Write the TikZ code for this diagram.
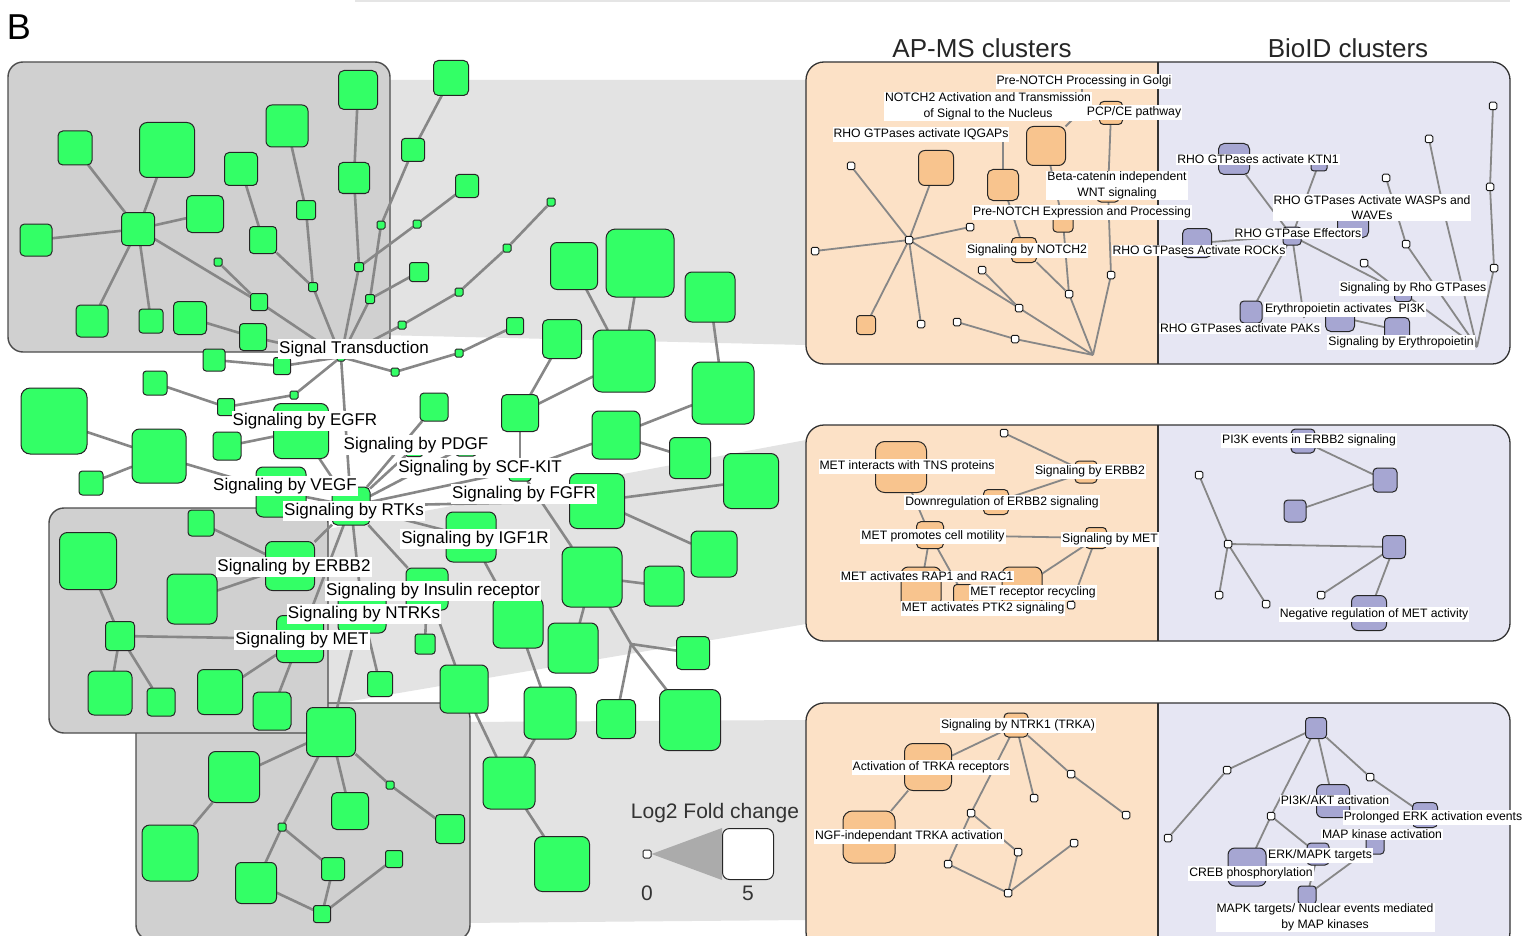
\documentclass[tikz,border=0pt]{standalone}
\usepackage{fontspec}
\setmainfont{Liberation Sans}
\pgfdeclarelayer{bg}
\pgfdeclarelayer{edges}
\pgfdeclarelayer{fg}
\pgfsetlayers{bg,edges,main,fg}
\definecolor{G}{HTML}{33FF66}
\definecolor{Peach}{HTML}{FCE1C6}
\definecolor{Lav}{HTML}{E6E6F3}
\definecolor{Or}{HTML}{F8C48E}
\definecolor{Pu}{HTML}{A6A6D2}
\definecolor{Box}{HTML}{D0D0D0}
\definecolor{Band}{HTML}{E3E3E3}
\definecolor{Edge}{HTML}{878787}
\tikzset{
 gn/.style={draw=black!85,line width=1pt,fill=G,inner sep=0pt,outer sep=0pt},
 onode/.style={draw=black!85,line width=1pt,fill=Or,inner sep=0pt,outer sep=0pt},
 pnode/.style={draw=black!85,line width=1pt,fill=Pu,inner sep=0pt,outer sep=0pt},
 wn/.style={draw=black!90,line width=1pt,fill=white,inner sep=0pt,outer sep=0pt,minimum size=7.5pt,rounded corners=1.5pt},
 le/.style={draw=Edge,line width=2.6pt},
 pe/.style={draw=Edge,line width=1.8pt},
 biglab/.style={fill=white,inner xsep=1pt,inner ysep=2pt,yshift=-2pt,font=\fontsize{17}{20}\selectfont},
 smlab/.style={fill=white,inner xsep=1pt,inner ysep=1.5pt,yshift=-1.5pt,font=\fontsize{12.2}{15.5}\selectfont,align=center},
 clbox/.style={fill=Box,draw=black!70,line width=1.4pt,rounded corners=15pt},
 panel/.style={draw=black!80,line width=1.3pt,rounded corners=18pt},
}
\newcommand\GN[4]{\pgfmathsetmacro\myrc{max(1.5,0.14*#4)}\node[gn,minimum size=#4pt,rounded corners=\myrc pt] (#1) at (#2,#3) {};}
\newcommand\ON[4]{\pgfmathsetmacro\myrc{max(1.5,0.18*#4)}\node[onode,minimum size=#4pt,rounded corners=\myrc pt] (#1) at (#2,#3) {};}
\newcommand\PN[4]{\pgfmathsetmacro\myrc{max(1.5,0.18*#4)}\node[pnode,minimum size=#4pt,rounded corners=\myrc pt] (#1) at (#2,#3) {};}
\newcommand\WN[3]{\node[wn] (#1) at (#2,#3) {};}
\begin{document}
\begin{tikzpicture}[x=1pt,y=-1pt]
\useasboundingbox (0,0) rectangle (1538,936);
% ---------- background ----------
\begin{pgfonlayer}{bg}
\fill[white] (0,0) rectangle (1538,936);
\draw[black!10,line width=1.5pt] (355,1) -- (1510,1);
\fill[Band] (380,80) -- (806,80) -- (806,345) -- (380,335) -- cycle;
\fill[Band] (328,529) -- (806,440) -- (806,624) -- (328,705) -- cycle;
\fill[Band] (460,722) -- (806,720) -- (806,920) -- (460,923) -- cycle;
\draw[clbox] (8,62) rectangle (390,352);
\draw[clbox] (136,703) rectangle (470,940);
\draw[clbox] (49,508) rectangle (328,733);
% panels
\foreach \ya/\yb in {62/364, 425/641, 703/950}{
  \fill[Lav,rounded corners=18pt] (806,\ya) rectangle (1510,\yb);
  \begin{scope}
   \clip[rounded corners=18pt] (806,\ya) rectangle (1510,\yb);
   \fill[Peach] (806,\ya) rectangle (1158,\yb);
  \end{scope}
  \draw[panel] (806,\ya) rectangle (1510,\yb);
  \draw[black!80,line width=1.3pt] (1158,\ya) -- (1158,\yb);
}
\end{pgfonlayer}
% ---------- titles ----------
\node[font=\fontsize{36}{40}\selectfont] (ttlB) at (19,27) {B};
\node[font=\fontsize{26}{30}\selectfont,text=black!85] (ttl1) at (982,48) {AP-MS clusters};
\node[font=\fontsize{26}{30}\selectfont,text=black!85] (ttl2) at (1348,48) {BioID clusters};
% ---------- left network nodes ----------
\GN{a1}{358}{90}{39}
\GN{a2}{287}{126}{42}
\GN{a3}{75}{148}{34}
\GN{a4}{167}{150}{55}
\GN{a5}{241}{169}{33}
\GN{a6}{354}{178}{31}
\GN{a7}{306}{210}{19}
\GN{a8}{205}{214}{37}
\GN{h1}{138}{229}{33}
\GN{a9}{36}{240}{32}
\GN{a10}{263}{240}{27}
\GN{s1}{381}{225}{8}
\GN{s2}{218}{262}{8}
\GN{s3}{359}{267}{9}
\GN{s4}{313}{287}{9}
\GN{s5}{370}{299}{9}
\GN{a11}{259}{302}{17}
\GN{a12}{92}{321}{32}
\GN{a13}{151}{321}{24}
\GN{a14}{190}{318}{33}
\GN{a15}{253}{337}{27}
\GN{st}{341}{357}{8}
\GN{b1}{451}{78}{35}
\GN{b2}{413}{150}{23}
\GN{b3}{467}{186}{23}
\GN{s8}{417}{224}{8}
\GN{s9}{551}{202}{8}
\GN{s10}{507}{248}{8}
\GN{b4}{419}{272}{19}
\GN{s11}{459}{292}{8}
\GN{s12}{402}{325}{8}
\GN{b5}{515}{326}{17}
\GN{s13}{459}{353}{8}
\GN{s14}{395}{372}{8}
\GN{c1}{574}{266}{47}
\GN{c2}{640}{263}{68}
\GN{c3}{710}{297}{50}
\GN{c4}{562}{339}{39}
\GN{c5}{624}{361}{62}
\GN{c6}{723}{393}{62}
\GN{e1}{214}{360}{22}
\GN{e2}{282}{366}{17}
\GN{e3}{155}{383}{24}
\GN{s15}{294}{395}{8}
\GN{e4}{226}{407}{17}
\GN{e5}{54}{421}{66}
\GN{egfr}{301}{431}{55}
\GN{e6}{227}{446}{28}
\GN{e7}{159}{456}{54}
\GN{e8}{91}{483}{24}
\GN{vegf}{281}{492}{50}
\GN{rtk}{351}{506}{38}
\GN{e9}{201}{523}{26}
\GN{erbb2}{290}{566}{49}
\GN{e10}{88}{561}{57}
\GN{e11}{192}{599}{50}
\GN{e12}{120}{636}{29}
\GN{ntrk}{362}{609}{48}
\GN{met}{300}{639}{47}
\GN{d1}{434}{407}{28}
\GN{pdgf}{466}{446}{20}
\GN{p1}{414}{448}{17}
\GN{d2}{520}{413}{37}
\GN{scf}{520}{470}{22}
\GN{d3}{616}{435}{48}
\GN{d4}{690}{458}{41}
\GN{d5}{751}{481}{55}
\GN{fgfr}{597}{501}{55}
\GN{igf}{471}{537}{50}
\GN{d6}{714}{554}{46}
\GN{d7}{592}{577}{60}
\GN{d8}{664}{586}{40}
\GN{ins}{427}{589}{42}
\GN{d9}{518}{623}{50}
\GN{d10}{573}{648}{50}
\GN{d11}{693}{653}{33}
\GN{f1}{425}{644}{20}
\GN{f2}{110}{693}{44}
\GN{f3}{161}{702}{28}
\GN{f4}{220}{692}{45}
\GN{f5}{272}{711}{38}
\GN{f6}{380}{684}{25}
\GN{f7}{464}{689}{48}
\GN{g0}{331}{732}{49}
\GN{g1}{234}{777}{51}
\GN{g2}{390}{785}{8}
\GN{g3}{350}{811}{37}
\GN{g4}{450}{829}{29}
\GN{g5}{170}{853}{56}
\GN{g6}{282}{827}{8}
\GN{g7}{333}{869}{23}
\GN{g8}{394}{859}{17}
\GN{g9}{256}{883}{41}
\GN{g10}{322}{914}{17}
\GN{h2}{550}{713}{52}
\GN{h3}{616}{719}{39}
\GN{h4}{690}{720}{61}
\GN{h5}{509}{783}{52}
\GN{h6}{562}{864}{55}
\coordinate (j1) at (631,644);
\begin{pgfonlayer}{edges}
\foreach \a/\b in {h1/a3,h1/a4,h1/a8,h1/a9,h1/a12,h1/a13,h1/a11,a11/s2,a11/st,a14/a15,a15/st,a5/a10,a10/s4,a2/a7,a7/s4,s4/st,a1/a6,a6/s3,s3/st,s3/s8,s8/b3,b1/b2,b2/s1,s1/s5,s5/st,s5/b4,s9/s10,s10/s11,s11/s12,s12/st,b5/s13,s13/s14,s14/st,e1/e2,e2/st,e3/e4,e4/s15,s15/st,st/rtk,egfr/rtk,e6/egfr,e5/e7,e8/e7,e7/vegf,vegf/rtk,d1/rtk,pdgf/rtk,p1/rtk,scf/rtk,d2/scf,scf/d7,d3/scf,d2/c4,d2/c5,c5/c1,c5/c2,c3/c6,d3/c6,d3/d4,fgfr/rtk,fgfr/d5,fgfr/d6,igf/rtk,igf/d9,ins/rtk,ins/f1,ins/f7,erbb2/rtk,erbb2/e9,erbb2/e11,e10/e12,e12/met,e12/f2,e12/f3,met/rtk,met/f4,met/f5,ntrk/rtk,ntrk/g0,ntrk/f6,f7/h5,h5/h2,h5/h6,h2/d9,d7/d10,d7/j1,j1/d11,j1/h3,j1/h4,d7/d8,g0/g1,g0/g6,g0/g3,g0/g2,g1/g5,g6/g9,g6/g7,g2/g4,g7/g10,g9/g10,g10/g8}
  {\draw[le] (\a) -- (\b);}
\end{pgfonlayer}
% ---------- left labels ----------
\begin{pgfonlayer}{fg}
\node[biglab] (lst) at (354,347) {Signal Transduction};
\node[biglab] (legfr) at (305,419) {Signaling by EGFR};
\node[biglab] (lpdgf) at (416,443) {Signaling by PDGF};
\node[biglab] (lscf) at (480,466) {Signaling by SCF-KIT};
\node[biglab] (lvegf) at (285,484) {Signaling by VEGF};
\node[biglab] (lfgfr) at (524,492) {Signaling by FGFR};
\node[biglab] (lrtk) at (354,509) {Signaling by RTKs};
\node[biglab] (ligf) at (475,537) {Signaling by IGF1R};
\node[biglab] (lerbb) at (294,565) {Signaling by ERBB2};
\node[biglab] (lins) at (433,589) {Signaling by Insulin receptor};
\node[biglab] (lntrk) at (364,612) {Signaling by NTRKs};
\node[biglab] (lmet) at (302,638) {Signaling by MET};
\end{pgfonlayer}
% ---------- legend ----------
\node[draw=black!85,line width=1pt,fill=white,minimum size=8pt,inner sep=0pt,rounded corners=1.5pt] (lg0) at (647,854) {};
\node[draw=black!85,line width=1pt,fill=white,minimum size=51pt,inner sep=0pt,rounded corners=7pt] (lg5) at (748,854) {};
\begin{pgfonlayer}{edges}
\fill[black!33] (lg0.east) -- (lg5.north west) -- (lg5.south west) -- cycle;
\end{pgfonlayer}
\node[font=\fontsize{21}{24}\selectfont,text=black!80] (lgt) at (715,813) {Log2 Fold change};
\node[font=\fontsize{21}{24}\selectfont,text=black!80] (lgt0) at (647,893) {0};
\node[font=\fontsize{21}{24}\selectfont,text=black!80] (lgt5) at (748,893) {5};
% ---------- panel 1 ----------
\ON{O1}{936}{168}{35}
\ON{O2}{1003}{185}{31}
\ON{O3}{1046}{146}{39}
\ON{O4}{1111}{113}{23}
\ON{O5}{1108}{191}{22}
\ON{O6}{1063}{222}{20}
\ON{O7}{1024}{250}{25}
\ON{O8}{866}{325}{19}
\WN{w1}{851}{166}\WN{w2}{909}{240}\WN{w3}{970}{227}\WN{w4}{815}{251}
\WN{w5}{921}{324}\WN{w6}{957}{322}\WN{w7}{982}{270}\WN{w8}{1019}{308}
\WN{w9}{1069}{294}\WN{w10}{1111}{275}\WN{w11}{1015}{339}
\coordinate (cv1) at (1093,355);
\coordinate (k1) at (1003,140);
\coordinate (k2) at (1082,110);
\coordinate (k3) at (1082,87);
\PN{P1}{1234}{159}{31}
\PN{P2}{1319}{163}{16}
\PN{P3}{1353}{222}{31}
\PN{P4}{1292}{236}{18}
\PN{P5}{1197}{243}{29}
\PN{P6}{1403}{293}{17}
\PN{P7}{1340}{317}{29}
\PN{P8}{1251}{312}{22}
\PN{P9}{1397}{330}{25}
\WN{q1}{1493}{106}\WN{q2}{1429}{139}\WN{q3}{1386}{178}\WN{q4}{1490}{187}
\WN{q5}{1445}{216}\WN{q6}{1406}{244}\WN{q7}{1364}{263}\WN{q8}{1494}{268}
\coordinate (cv2) at (1477,347);
\coordinate (k4) at (1304,318);
% ---------- panel 2 ----------
\ON{R1}{901}{467}{51}
\ON{R2}{1086}{472}{22}
\ON{R3}{996}{502}{25}
\ON{R4}{930}{535}{27}
\ON{R5}{1096}{538}{21}
\ON{R6}{921}{587}{40}
\ON{R7}{1022}{587}{40}
\ON{R8}{963}{594}{19}
\WN{t1}{1004}{433}\WN{t2}{1071}{605}
\PN{V1}{1303}{441}{24}
\PN{V2}{1385}{480}{24}
\PN{V3}{1295}{511}{22}
\PN{V4}{1394}{547}{23}
\PN{V5}{1369}{613}{35}
\WN{u1}{1199}{475}\WN{u2}{1228}{544}\WN{u3}{1219}{595}\WN{u4}{1266}{604}\WN{u5}{1321}{595}
% ---------- panel 3 ----------
\ON{N1}{1016}{725}{24}
\ON{N2}{928}{767}{47}
\ON{N3}{869}{837}{52}
\WN{z1}{1071}{774}\WN{z2}{1034}{798}\WN{z3}{1126}{815}\WN{z4}{971}{813}
\WN{z5}{1074}{843}\WN{z6}{1018}{852}\WN{z7}{948}{864}\WN{z8}{1008}{893}
\PN{M1}{1316}{728}{21}
\PN{M2}{1333}{801}{33}
\PN{M3}{1425}{815}{25}
\PN{M4}{1375}{845}{18}
\PN{M5}{1318}{854}{22}
\PN{M6}{1247}{867}{38}
\PN{M7}{1307}{895}{18}
\WN{y1}{1227}{770}\WN{y2}{1168}{838}\WN{y3}{1370}{777}\WN{y4}{1271}{816}
\begin{pgfonlayer}{edges}
\foreach \a/\b in {w2/w1,w2/O1,w2/w3,w2/w4,w2/O8,w2/w5,w2/w8,w7/w8,w8/cv1,O3/O6,O6/w9,O2/O7,O7/w9,w9/cv1,O4/O5,O5/w10,w10/cv1,w6/w11,w11/cv1,O2/k1,
  P1/P4,P2/P4,P5/P4,P4/P8,P4/k4,P4/P6,q7/P6,P7/P9,P6/cv2,q6/q3,q6/cv2,q2/q5,q5/cv2,q1/q4,q4/q8,q8/cv2,
  t1/R2,R2/R3,R1/R4,R4/R5,R4/R6,R4/R8,R5/R7,R5/t2,
  V1/V2,V3/V2,u1/u2,u2/V4,u2/u3,u2/u4,u5/V4,V4/V5,
  N1/N2,N2/N3,N1/z4,N1/z2,N1/z1,z1/z3,z4/z6,z4/z7,z6/z8,z7/z8,z8/z5,
  M1/y1,y1/y2,M1/y4,y4/M6,y4/M5,M1/M2,M1/y3,y3/M3,M5/M7,M4/M7}
  {\draw[pe] (\a) -- (\b);}
\draw[pe] (O3.north east) -- (k2) -- (k3);
\end{pgfonlayer}
% ---------- panel labels ----------
\begin{pgfonlayer}{fg}
\node[smlab] (m1) at (1084,80) {Pre-NOTCH Processing in Golgi};
\node[smlab] (m2) at (988,105) {NOTCH2 Activation and Transmission\\of Signal to the Nucleus};
\node[smlab] (m3) at (1134,111) {PCP/CE pathway};
\node[smlab] (m4) at (921,133) {RHO GTPases activate IQGAPs};
\node[smlab] (m5) at (1117,184) {Beta-catenin independent\\WNT signaling};
\node[smlab] (m6) at (1082,211) {Pre-NOTCH Expression and Processing};
\node[smlab] (m7) at (1027,249) {Signaling by NOTCH2};
\node[smlab] (m8) at (1199,249) {RHO GTPases Activate ROCKs};
\node[smlab] (m9) at (1258,158) {RHO GTPases activate KTN1};
\node[smlab] (m10) at (1372,206) {RHO GTPases Activate WASPs and\\WAVEs};
\node[smlab] (m11) at (1298,232) {RHO GTPase Effectors};
\node[smlab] (m12) at (1413,287) {Signaling by Rho GTPases};
\node[smlab] (m13) at (1345,308) {Erythropoietin activates\ \ PI3K};
\node[smlab] (m14) at (1240,327) {RHO GTPases activate PAKs};
\node[smlab] (m15) at (1401,341) {Signaling by Erythropoietin};
\node[smlab] (n1) at (907,465) {MET interacts with TNS proteins};
\node[smlab] (n2) at (1090,470) {Signaling by ERBB2};
\node[smlab] (n3) at (1002,501) {Downregulation of ERBB2 signaling};
\node[smlab] (n4) at (933,535) {MET promotes cell motility};
\node[smlab] (n5) at (1110,538) {Signaling by MET};
\node[smlab] (n6) at (927,575) {MET activates RAP1 and RAC1};
\node[smlab] (n7) at (1033,591) {MET receptor recycling};
\node[smlab] (n8) at (983,607) {MET activates PTK2 signaling};
\node[smlab] (n9) at (1309,439) {PI3K events in ERBB2 signaling};
\node[smlab] (n10) at (1374,613) {Negative regulation of MET activity};
\node[smlab] (r1) at (1018,724) {Signaling by NTRK1 (TRKA)};
\node[smlab] (r2) at (931,766) {Activation of TRKA receptors};
\node[smlab] (r3) at (909,835) {NGF-independant TRKA activation};
\node[smlab] (r4) at (1335,799) {PI3K/AKT activation};
\node[smlab] (r5) at (1433,816) {Prolonged ERK activation events};
\node[smlab] (r6) at (1382,833) {MAP kinase activation};
\node[smlab] (r7) at (1320,854) {ERK/MAPK targets};
\node[smlab] (r8) at (1251,872) {CREB phosphorylation};
\node[smlab] (r9) at (1325,916) {MAPK targets/ Nuclear events mediated\\by MAP kinases};
\end{pgfonlayer}
\end{tikzpicture}
\end{document}
